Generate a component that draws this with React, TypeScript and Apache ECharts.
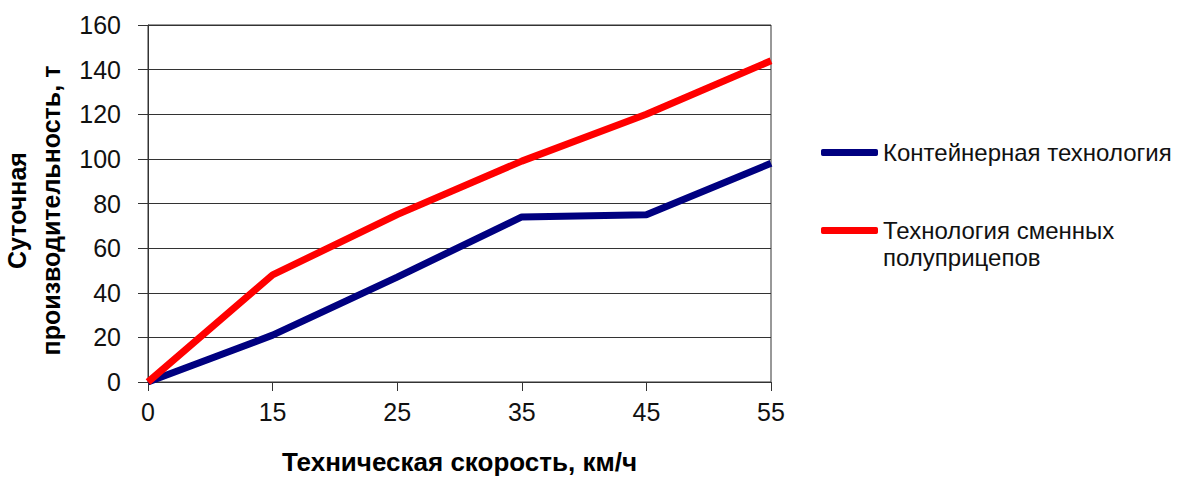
import React, { useEffect, useRef } from "react";
import * as echarts from "echarts";

// Технические скорости, км/ч
const speeds = ["0", "15", "25", "35", "45", "55"];
// Суточная производительность, т
const containerValues = [0, 21, 47, 74, 75, 98];
const semitrailerValues = [0, 48, 75, 99, 120, 144];

const containerName = "Контейнерная технология";
const semitrailerName = "Технология сменных\nполуприцепов";

const FONT = "'Liberation Sans', Arial, sans-serif";
const LINE_COLOR = "#333333";

export default function App() {
  const ref = useRef<HTMLDivElement>(null);

  useEffect(() => {
    document.body.style.margin = "0";
    if (!ref.current) return;
    const chart = echarts.init(ref.current, undefined, { renderer: "svg" });
    const legendText = {
      fontFamily: FONT,
      fontSize: 24,
      lineHeight: 27,
      color: "#111111",
    };
    chart.setOption({
      animation: false,
      backgroundColor: "#ffffff",
      textStyle: { fontFamily: FONT },
      grid: {
        left: 148,
        right: 408,
        top: 25,
        bottom: 95,
        containLabel: false,
        outerBoundsMode: "none",
        show: true,
        borderColor: LINE_COLOR,
        borderWidth: 1,
      },
      legend: [
        {
          data: [containerName],
          orient: "vertical",
          left: 821,
          top: 139,
          padding: 0,
          itemWidth: 57,
          itemHeight: 7,
          icon: "roundRect",
          textStyle: legendText,
        },
        {
          data: [semitrailerName],
          orient: "vertical",
          left: 821,
          top: 190,
          padding: 0,
          itemWidth: 57,
          itemHeight: 7,
          icon: "roundRect",
          // a blank leading line keeps the first text line level with the icon
          formatter: (name: string) => " \n" + name,
          textStyle: legendText,
        },
      ],
      xAxis: {
        type: "category",
        data: speeds,
        boundaryGap: false,
        name: "Техническая скорость, км/ч",
        nameLocation: "middle",
        nameGap: 67,
        nameTextStyle: { fontFamily: FONT, fontSize: 26, fontWeight: "bold", color: "#000" },
        axisLine: { lineStyle: { color: LINE_COLOR, width: 1 } },
        axisTick: { show: true, length: 9, alignWithLabel: true, lineStyle: { color: LINE_COLOR } },
        axisLabel: { fontFamily: FONT, fontSize: 25, color: "#111", margin: 17 },
        splitLine: { show: false },
      },
      yAxis: {
        type: "value",
        min: 0,
        max: 160,
        interval: 20,
        name: "Суточная\nпроизводительность, т",
        nameLocation: "middle",
        nameGap: 79,
        nameRotate: 90,
        nameTextStyle: {
          fontFamily: FONT,
          fontSize: 25,
          fontWeight: "bold",
          color: "#000",
          lineHeight: 34,
          padding: [0, 14, 0, 0],
        },
        axisLine: { show: true, lineStyle: { color: LINE_COLOR, width: 1 } },
        axisTick: { show: true, length: 10, lineStyle: { color: LINE_COLOR } },
        axisLabel: { fontFamily: FONT, fontSize: 25, color: "#111", margin: 27 },
        splitLine: { show: true, lineStyle: { color: LINE_COLOR, width: 1 } },
      },
      series: [
        {
          name: containerName,
          type: "line",
          data: containerValues,
          symbol: "none",
          color: "#000080",
          lineStyle: { color: "#000080", width: 7 },
        },
        {
          name: semitrailerName,
          type: "line",
          data: semitrailerValues,
          symbol: "none",
          color: "#ff0000",
          lineStyle: { color: "#ff0000", width: 7 },
        },
      ],
    });
    return () => chart.dispose();
  }, []);

  return <div ref={ref} style={{ width: 1179, height: 477 }} />;
}
